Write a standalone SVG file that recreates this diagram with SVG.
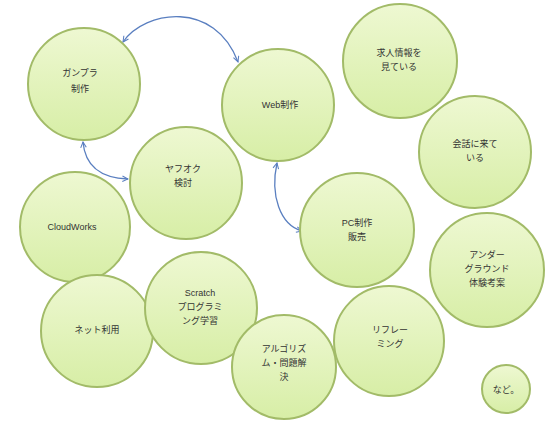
<svg xmlns="http://www.w3.org/2000/svg" width="548" height="426" viewBox="0 0 548 426">
<style>
.n circle{fill:url(#g);stroke:#a2bb68;stroke-width:2}
.n text{font-family:"Liberation Sans","Noto Sans CJK JP",sans-serif;font-size:9px;fill:#333;text-anchor:middle}
.c path{fill:none;stroke:#5a7fc0;stroke-width:1.3;marker-start:url(#a);marker-end:url(#a)}
</style>
<defs>
<linearGradient id="g" x1="0" y1="0" x2="0" y2="1">
<stop offset="0" stop-color="#eef8d2"/>
<stop offset="1" stop-color="#d7eea6"/>
</linearGradient>
<marker id="a" viewBox="0 0 10 10" refX="9" refY="5" markerWidth="7" markerHeight="7" orient="auto-start-reverse" markerUnits="userSpaceOnUse">
<path d="M1,1 L9,5 L1,9" fill="none" stroke="#5a7fc0" stroke-width="1.5"/>
</marker>
</defs>
<rect width="548" height="426" fill="#fff"/>
<g class="c" id="connectors">
<path d="M123,42 C145,10 215,0 238,62"/>
<path d="M83,142 C85,165 100,178 128,179"/>
<path d="M277,163 C270,195 280,225 302,231"/>
</g>
<g class="n" id="n1"><circle cx="84" cy="84" r="56"/><text x="80" y="76">ガンプラ</text><text x="80" y="92">制作</text></g>
<g class="n" id="n2"><circle cx="278" cy="105" r="56"/><text x="280" y="108">Web制作</text></g>
<g class="n" id="n3"><circle cx="400" cy="61" r="57"/><text x="399" y="56">求人情報を</text><text x="399" y="70">見ている</text></g>
<g class="n" id="n4"><circle cx="475" cy="152" r="56"/><text x="475" y="147">会話に来て</text><text x="475" y="161">いる</text></g>
<g class="n" id="n5"><circle cx="186" cy="183" r="56"/><text x="183" y="172">ヤフオク</text><text x="183" y="186">検討</text></g>
<g class="n" id="n6"><circle cx="75" cy="227" r="55"/><text x="72" y="230">CloudWorks</text></g>
<g class="n" id="n7"><circle cx="357" cy="230" r="57"/><text x="357" y="226">PC制作</text><text x="357" y="240">販売</text></g>
<g class="n" id="n8"><circle cx="487" cy="270" r="57"/><text x="487" y="258">アンダー</text><text x="487" y="272">グラウンド</text><text x="487" y="286">体験考案</text></g>
<g class="n" id="n9"><circle cx="97" cy="331" r="56"/><text x="97" y="333">ネット利用</text></g>
<g class="n" id="n10"><circle cx="201" cy="308" r="56"/><text x="200" y="296">Scratch</text><text x="200" y="310">プログラミ</text><text x="200" y="324">ング学習</text></g>
<g class="n" id="n11"><circle cx="284" cy="367" r="52"/><text x="284" y="352">アルゴリズ</text><text x="284" y="366">ム・問題解</text><text x="284" y="380">決</text></g>
<g class="n" id="n12"><circle cx="389" cy="341" r="55"/><text x="390" y="333">リフレー</text><text x="390" y="347">ミング</text></g>
<g class="n" id="n13"><circle cx="506" cy="389" r="24"/><text x="506" y="393">など。</text></g>
</svg>
